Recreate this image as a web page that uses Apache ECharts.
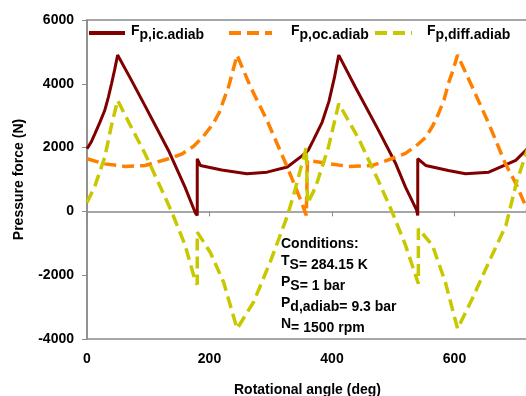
<!DOCTYPE html>
<html>
<head>
<meta charset="utf-8">
<script src="https://cdn.jsdelivr.net/npm/echarts@6/dist/echarts.min.js"></script>
<style>
  html, body { margin: 0; padding: 0; background: #fff; }
  #chart { width: 526px; height: 396px; }
</style>
</head>
<body>
<div id="chart"></div>
<script>
// values (angle in deg, force in N)
const icAngle = [0, 7, 13, 21, 29, 35, 40, 45, 50, 72, 95, 133, 160, 177, 180, 180, 185, 220, 261, 294, 327, 352,
  361, 370, 384, 395, 404, 411, 438, 476, 504, 520, 538, 540, 540, 553, 590, 618, 656, 700, 720];
const icForce = [1965, 2180, 2440, 2790, 3170, 3590, 4000, 4430, 4900, 4130, 3300, 1910, 760, -50, -125, 1650, 1440, 1300, 1180, 1230, 1390, 1755,
  1910, 2250, 2800, 3450, 4200, 4900, 3900, 2540, 1500, 760, 50, -125, 1650, 1440, 1280, 1180, 1230, 1600, 1980];

const ocAngle = [0, 29, 62, 95, 133, 155, 174, 190, 206, 216, 223, 231, 237, 245, 267, 294, 327, 350, 358, 360,
  394, 427, 466, 504, 520, 537, 553, 565, 574, 583, 590, 598, 605, 629, 656, 683, 700, 720];
const ocForce = [1650, 1490, 1410, 1440, 1650, 1800, 2040, 2350, 2750, 3100, 3480, 3900, 4320, 4900, 3900, 2850, 1390, 300, -125, 1600,
  1500, 1410, 1440, 1700, 1820, 2050, 2320, 2700, 3070, 3500, 4010, 4450, 4900, 3900, 2750, 1500, 880, 0];

const diffAngle = [0, 13, 29, 40, 50, 68, 95, 117, 138, 160, 177, 180, 180, 201, 223, 245, 272, 299, 327, 340, 358, 360,
  373, 394, 411, 443, 476, 500, 520, 541, 541, 564, 585, 605, 629, 656, 684, 702, 708, 720];
const diffForce = [280, 800, 1700, 2700, 3480, 2800, 1800, 880, 0, -1050, -2200, -2290, -650, -1275, -2215, -3680, -2840, -1590, -150, 700, 2000, 250,
  750, 2000, 3375, 2300, 950, -100, -1060, -2265, -540, -1065, -2215, -3680, -2740, -1590, -440, 970, 1300, 2000];

const seriesNames = ['Fp,ic.adiab', 'Fp,oc.adiab', 'Fp,diff.adiab'];
const conditions = ['Conditions:', 'T|S= 284.15 K', 'P|S= 1 bar', 'P|d,adiab= 9.3 bar', 'N|= 1500 rpm'];

const FONT = 'Liberation Sans, Arial, sans-serif';
const AXIS_GRAY = '#8a8a8a';

const pairs = (xs, ys) => xs.map((x, i) => [x, ys[i]]);

const chart = echarts.init(document.getElementById('chart'), null, { renderer: 'canvas' });

const boldText = { fontFamily: FONT, fontWeight: 'bold', fontSize: 14, color: '#000' };

const legendLeft = [87, 227, 373];
const legendTextPad = [1, 14, 10];
const legendWidth = [36, 43, 37];

chart.setOption({
  backgroundColor: '#fff',
  animation: false,
  grid: {
    left: 87, right: -2, top: 20, bottom: 57,
    outerBoundsMode: 'none', containLabel: false,
    show: true, borderColor: AXIS_GRAY, borderWidth: 1.5
  },
  legend: seriesNames.map((n, i) => ({
    data: [n],
    left: legendLeft[i],
    top: 24,
    padding: 0,
    itemWidth: legendWidth[i],
    itemHeight: 14,
    selectedMode: false,
    itemStyle: { opacity: 0 },
    lineStyle: { width: 4 },
    formatter: name => `{f|F}{s|${name.slice(1)}}`,
    textStyle: {
      rich: {
        f: { ...boldText, fontSize: 14, padding: [0, 0, 4, legendTextPad[i]], verticalAlign: 'bottom' },
        s: { ...boldText, fontSize: 14, padding: [4, 0, 0, 0], verticalAlign: 'bottom' }
      }
    }
  })),
  xAxis: {
    type: 'value',
    min: 0,
    max: 720,
    interval: 200,
    name: 'Rotational angle (deg)',
    nameLocation: 'middle',
    nameGap: 44,
    nameTextStyle: boldText,
    axisLine: { lineStyle: { color: AXIS_GRAY, width: 1.5 } },
    axisTick: { length: 5, lineStyle: { color: AXIS_GRAY, width: 1 } },
    axisLabel: { ...boldText, margin: 13, showMaxLabel: false, formatter: v => String(v) },
    splitLine: { show: false }
  },
  yAxis: {
    type: 'value',
    min: -4000,
    max: 6000,
    interval: 2000,
    name: 'Pressure force (N)',
    nameLocation: 'middle',
    nameGap: 61,
    nameTextStyle: boldText,
    axisLine: { show: true, lineStyle: { color: AXIS_GRAY, width: 1.5 } },
    axisTick: { show: true, length: 5, lineStyle: { color: AXIS_GRAY, width: 1 } },
    axisLabel: { ...boldText, margin: 13, formatter: v => String(v) },
    splitLine: { show: false }
  },
  graphic: [{
    type: 'text',
    left: 281,
    top: 237,
    style: {
      text: conditions.map(l => {
        const [a, b] = l.split('|');
        return b === undefined ? `{s|${a}}` : `{u|${a}}{s|${b}}`;
      }).join('\n'),
      rich: {
        u: { ...boldText, padding: [3, 0, 4, 0], verticalAlign: 'bottom' },
        s: { ...boldText, padding: [7, 0, 0, 0], verticalAlign: 'bottom' }
      }
    }
  }],
  series: [
    {
      name: seriesNames[0], type: 'line', symbol: 'none', showSymbol: false,
      data: pairs(icAngle, icForce),
      lineStyle: { color: '#800000', width: 3 }, itemStyle: { color: '#800000' }
    },
    {
      name: seriesNames[1], type: 'line', symbol: 'none', showSymbol: false,
      data: pairs(ocAngle, ocForce),
      lineStyle: { color: '#ff8000', width: 3.5, type: [12, 6] }, itemStyle: { color: '#ff8000' }
    },
    {
      name: seriesNames[2], type: 'line', symbol: 'none', showSymbol: false,
      data: pairs(diffAngle, diffForce),
      lineStyle: { color: '#c8c800', width: 3.5, type: [12, 6] }, itemStyle: { color: '#c8c800' }
    }
  ]
});
</script>
</body>
</html>
